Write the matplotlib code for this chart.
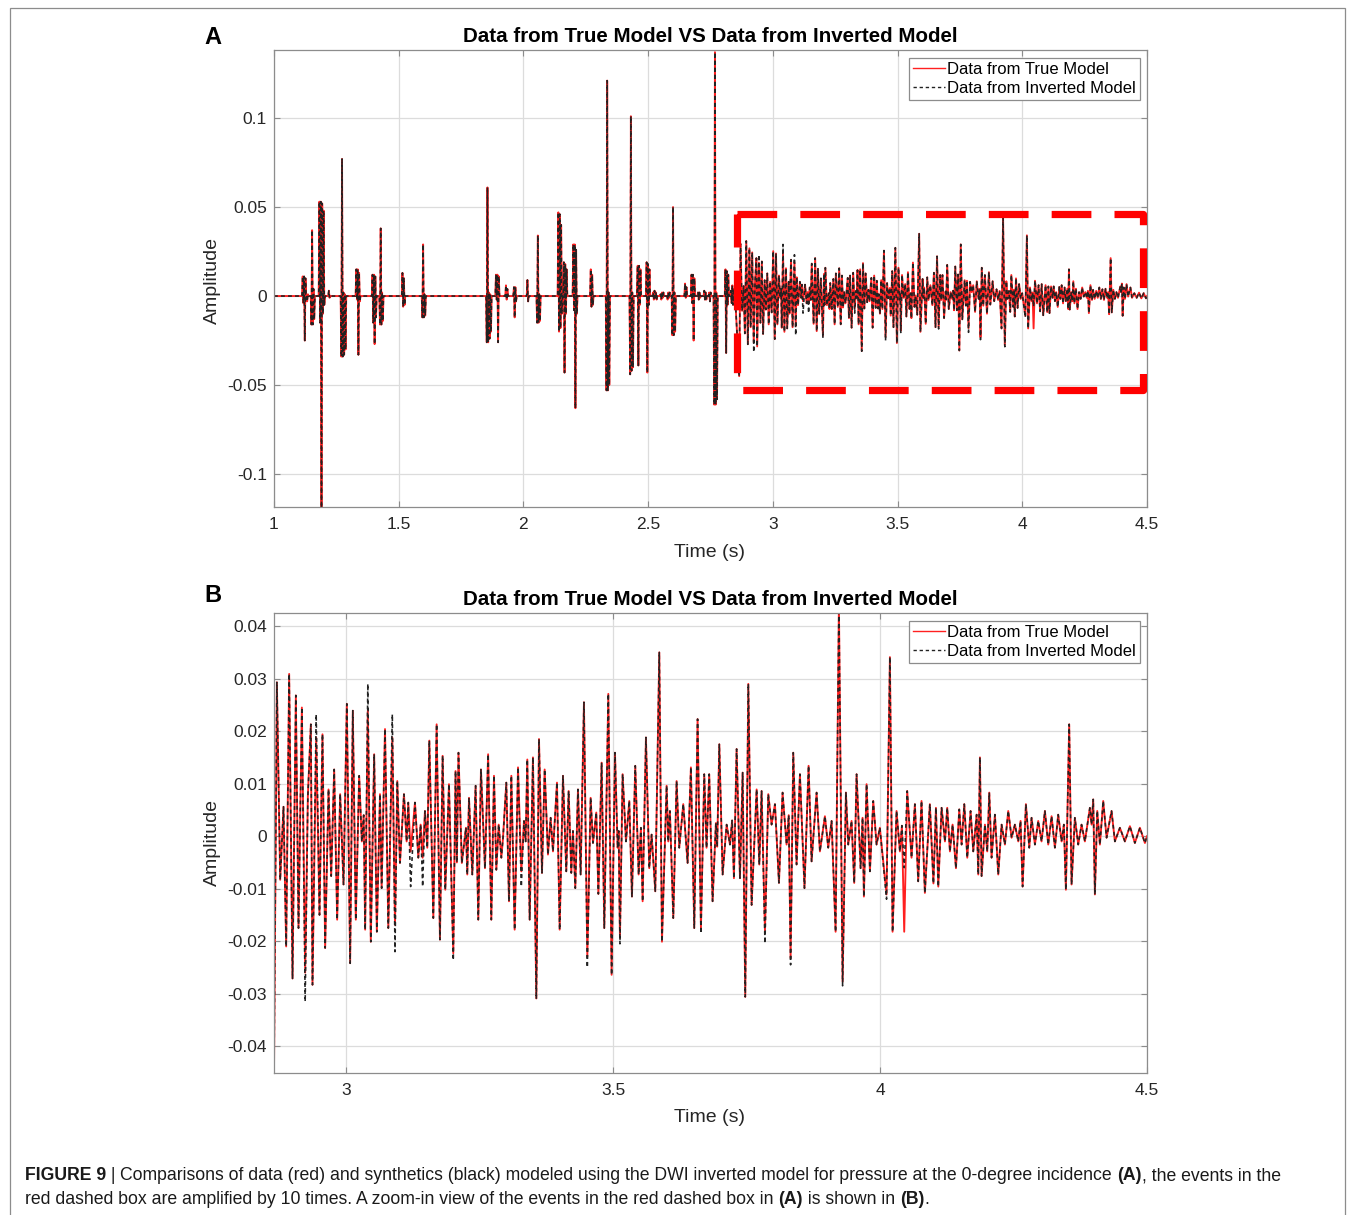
import numpy as np
import matplotlib
matplotlib.use('Agg')
from matplotlib import pyplot as plt
from matplotlib.patches import Rectangle

plt.rcParams['font.family'] = ['Liberation Sans', 'DejaVu Sans']
plt.rcParams['axes.unicode_minus'] = False

TITLE = 'Data from True Model VS Data from Inverted Model'
LEG = ['Data from True Model', 'Data from Inverted Model']

# early events of the full trace (A): onset time and successive extrema
ev_onset = [1.115, 1.133, 1.150, 1.182, 1.220, 1.270, 1.330, 1.395, 1.425, 1.515,
            1.595, 1.853, 1.890, 1.930, 1.962, 2.016, 2.055, 2.140, 2.162, 2.200,
            2.270, 2.333, 2.428, 2.458, 2.494, 2.520, 2.550, 2.578, 2.597, 2.648,
            2.674, 2.700, 2.725, 2.745, 2.765, 2.810, 2.832]
ev_amp = [
    [0.011, -0.004, 0.011, -0.025, 0.010, -0.002],
    [-0.003, 0.001],
    [-0.016, 0.037, -0.016, 0.004, -0.013],
    [0.053, -0.015, 0.053, -0.119, 0.052, -0.010, 0.048, -0.005],
    [0.003, -0.001],
    [-0.034, 0.077, -0.034, 0.002, -0.033, 0.001, -0.030],
    [0.015, -0.002, 0.015, -0.033, 0.013, -0.003],
    [0.012, -0.015, 0.012, -0.027, 0.011, -0.012],
    [-0.016, 0.038, -0.016, 0.002, -0.014],
    [0.013, -0.006, 0.010, -0.005],
    [-0.012, 0.029, -0.012, 0.001, -0.011],
    [-0.026, 0.061, -0.026, 0.002, -0.024, 0.001, -0.020],
    [0.012, -0.002, 0.012, -0.026, 0.011],
    [0.006, -0.002, 0.004],
    [0.005, -0.012, 0.005, -0.003],
    [0.009, -0.003],
    [-0.015, 0.034, -0.015, 0.001, -0.014],
    [0.047, -0.020, 0.046, -0.018, 0.040, -0.010],
    [0.019, -0.043, 0.018, -0.010, 0.015],
    [0.029, -0.008, 0.029, -0.063, 0.026, -0.010],
    [0.015, -0.006, 0.012, -0.005],
    [-0.053, 0.121, -0.053, 0.002, -0.050],
    [-0.044, 0.101, -0.042, 0.002, -0.040],
    [0.017, -0.039, 0.017, -0.005, 0.015],
    [0.019, -0.043, 0.018, -0.005, 0.015],
    [0.002, -0.002, 0.003, -0.001, 0.002, -0.002],
    [0.001, -0.002, 0.002, -0.001, 0.002],
    [-0.002, 0.002, -0.001, 0.002],
    [-0.022, 0.050, -0.022, 0.002, -0.020],
    [0.007, -0.001, 0.005],
    [0.012, -0.004, 0.012, -0.025, 0.010],
    [0.002, -0.002, 0.002, -0.001],
    [0.003, -0.002, 0.002, -0.002],
    [0.002, -0.003, 0.002],
    [-0.061, 0.137, -0.061, 0.002, -0.058],
    [0.015, -0.032, 0.014, -0.005, 0.012],
    [0.003, -0.004, 0.006, -0.005, 0.004, -0.003],
]
DT = 0.0028  # spacing of extrema inside one event

# boxed part of the trace (shown enlarged in B): extrema times and amplitudes
t_b = [2.865, 2.8704, 2.8766, 2.8828, 2.8878, 2.8934, 2.8997, 2.9059, 2.9109, 2.9172,
       2.9234, 2.9284, 2.9340, 2.9371, 2.9440, 2.9502, 2.9558, 2.9608, 2.9671, 2.9721,
       2.9777, 2.9833, 2.9889, 2.9952, 3.0014, 3.0076, 3.0126, 3.0182, 3.0245, 3.0295,
       3.0330, 3.0357, 3.0407, 3.0463, 3.0526, 3.0576, 3.0635, 3.0666, 3.0729, 3.0791,
       3.0866, 3.0916, 3.0959, 3.1009, 3.1084, 3.1134, 3.1165, 3.1209, 3.1290, 3.1353,
       3.1396, 3.1434, 3.1477, 3.1521, 3.1559, 3.1634, 3.1696, 3.1758, 3.1808, 3.1858,
       3.1927, 3.2008, 3.2050, 3.2075, 3.2105, 3.2168, 3.2245, 3.2270, 3.2302, 3.2364,
       3.2426, 3.2476, 3.2526, 3.2601, 3.2660, 3.2720, 3.2770, 3.2814, 3.2858, 3.2908,
       3.2939, 3.3001, 3.3051, 3.3095, 3.3157, 3.3220, 3.3282, 3.3332, 3.3363, 3.3394,
       3.3438, 3.3500, 3.3563, 3.3613, 3.3669, 3.3719, 3.3781, 3.3831, 3.3875, 3.3950,
       3.4000, 3.4062, 3.4124, 3.4168, 3.4218, 3.4249, 3.4293, 3.4343, 3.4393, 3.4455,
       3.4518, 3.4580, 3.4624, 3.4686, 3.4725, 3.4786, 3.4836, 3.4911, 3.4973, 3.5036,
       3.5086, 3.5105, 3.5129, 3.5179, 3.5242, 3.5304, 3.5354, 3.5416, 3.5479, 3.5522,
       3.5554, 3.5616, 3.5678, 3.5722, 3.5791, 3.5866, 3.5916, 3.6003, 3.6034, 3.6065,
       3.6128, 3.6190, 3.6240, 3.6315, 3.6396, 3.6458, 3.6521, 3.6583, 3.6646, 3.6708,
       3.6751, 3.6801, 3.6864, 3.6926, 3.6950, 3.6990, 3.7052, 3.7127, 3.7189, 3.7230,
       3.7264, 3.7314, 3.7377, 3.7427, 3.7476, 3.7533, 3.7595, 3.7689, 3.7739, 3.7782,
       3.7845, 3.7907, 3.7969, 3.8032, 3.8107, 3.8175, 3.8250, 3.8290, 3.8325, 3.8375,
       3.8437, 3.8500, 3.8585, 3.8662, 3.8718, 3.8812, 3.8874, 3.8968, 3.9030, 3.9093,
       3.9168, 3.9230, 3.9299, 3.9361, 3.9405, 3.9467, 3.9517, 3.9561, 3.9636, 3.9673,
       3.9698, 3.9748, 3.9811, 3.9873, 3.9935, 3.9997, 4.0122, 4.0185, 4.0235, 4.0309,
       4.0372, 4.0410, 4.0453, 4.0509, 4.0590, 4.0653, 4.0715, 4.0777, 4.0840, 4.0933,
       4.1000, 4.1047, 4.1091, 4.1153, 4.1216, 4.1259, 4.1309, 4.1359, 4.1422, 4.1484,
       4.1528, 4.1578, 4.1634, 4.1696, 4.1746, 4.1809, 4.1840, 4.1871, 4.1902, 4.1965,
       4.2008, 4.2046, 4.2089, 4.2152, 4.2214, 4.2277, 4.2339, 4.2401, 4.2464, 4.2526,
       4.2589, 4.2632, 4.2670, 4.2732, 4.2795, 4.2838, 4.2901, 4.2963, 4.3025, 4.3088,
       4.3150, 4.3213, 4.3275, 4.3337, 4.3400, 4.3443, 4.3481, 4.3543, 4.3587, 4.3649,
       4.3712, 4.3774, 4.3837, 4.3930, 4.3962, 4.3993, 4.4024, 4.4068, 4.4118, 4.4180,
       4.4243, 4.4336, 4.4399, 4.4492, 4.4586, 4.4680, 4.4773, 4.4867, 4.4961, 4.5000]
true_b = [-0.0450, 0.0293, -0.0083, 0.0056, -0.0210, 0.0309, -0.0271, 0.0268, -0.0175, 0.0245,
          -0.0260, 0.0076, 0.0213, -0.0283, 0.0188, -0.0150, 0.0194, -0.0213, 0.0089, -0.0076,
          0.0127, -0.0159, 0.0080, -0.0092, 0.0252, -0.0242, 0.0239, -0.0159, 0.0115, -0.0010,
          0.0040, -0.0178, 0.0239, -0.0201, 0.0156, -0.0182, 0.0080, -0.0099, 0.0204, -0.0175,
          0.0188, -0.0169, 0.0105, -0.0051, 0.0080, -0.0010, 0.0064, -0.0029, 0.0064, -0.0041,
          0.0022, -0.0041, 0.0048, -0.0022, 0.0182, -0.0156, 0.0213, -0.0197, 0.0153, -0.0102,
          0.0099, -0.0223, 0.0124, -0.0050, 0.0159, -0.0051, 0.0016, -0.0073, 0.0073, -0.0073,
          0.0096, -0.0159, 0.0127, -0.0061, 0.0156, -0.0159, 0.0115, -0.0064, 0.0022, -0.0041,
          -0.0003, 0.0102, -0.0124, 0.0115, -0.0178, 0.0131, -0.0067, 0.0029, -0.0010, 0.0146,
          -0.0159, 0.0150, -0.0309, 0.0185, -0.0070, 0.0127, -0.0035, 0.0035, -0.0029, 0.0102,
          -0.0178, 0.0115, -0.0067, 0.0086, -0.0070, 0.0010, -0.0099, 0.0089, -0.0073, 0.0255,
          -0.0229, 0.0073, -0.0013, 0.0045, -0.0110, 0.0140, -0.0175, 0.0271, -0.0264, 0.0159,
          -0.0022, 0.0010, -0.0194, 0.0118, -0.0010, 0.0067, -0.0115, 0.0134, -0.0073, 0.0016,
          -0.0124, 0.0188, -0.0061, 0.0003, -0.0105, 0.0350, -0.0201, 0.0096, -0.0010, 0.0048,
          -0.0156, 0.0105, -0.0022, 0.0061, -0.0051, 0.0131, -0.0175, 0.0223, -0.0175, 0.0118,
          -0.0022, 0.0118, -0.0124, 0.0025, -0.0020, 0.0175, -0.0073, 0.0022, -0.0016, 0.0030,
          -0.0080, 0.0166, -0.0080, 0.0121, -0.0306, 0.0290, -0.0131, 0.0089, -0.0054, 0.0086,
          -0.0180, 0.0080, 0.0022, 0.0061, -0.0089, 0.0083, -0.0016, 0.0040, -0.0232, 0.0159,
          -0.0054, 0.0118, -0.0099, 0.0134, -0.0048, 0.0083, -0.0029, 0.0038, -0.0022, 0.0029,
          -0.0182, 0.0440, -0.0277, 0.0083, -0.0016, 0.0029, -0.0089, 0.0118, -0.0061, 0.0035,
          -0.0115, 0.0099, -0.0067, 0.0067, -0.0016, 0.0016, -0.0111, 0.0341, -0.0182, 0.0048,
          -0.0029, 0.0020, -0.0182, 0.0086, -0.0041, 0.0061, -0.0086, 0.0067, -0.0108, 0.0061,
          -0.0090, 0.0054, -0.0096, 0.0054, -0.0010, 0.0054, -0.0029, 0.0022, -0.0061, 0.0051,
          -0.0016, 0.0061, -0.0041, 0.0048, -0.0029, 0.0041, -0.0073, 0.0150, -0.0076, 0.0022,
          -0.0029, 0.0083, -0.0041, 0.0041, -0.0073, 0.0022, -0.0016, 0.0048, -0.0003, 0.0022,
          -0.0010, 0.0029, -0.0096, 0.0061, -0.0022, 0.0035, -0.0016, 0.0029, -0.0010, 0.0048,
          -0.0016, 0.0038, -0.0022, 0.0041, -0.0010, 0.0022, -0.0102, 0.0213, -0.0092, 0.0035,
          -0.0016, 0.0022, -0.0010, 0.0054, 0.0022, 0.0070, -0.0111, 0.0048, -0.0016, 0.0067,
          -0.0003, 0.0048, -0.0010, 0.0016, -0.0010, 0.0019, -0.0013, 0.0016, -0.0013, 0.0000]
# extrema where the inverted-model synthetics differ from the true-model data
inv_t = [2.9234, 2.9440, 3.0407, 3.0866, 3.0916, 3.1209, 3.1434, 3.2008, 3.3282, 3.3563,
         3.4518, 3.5129, 3.6646, 3.7845, 3.8325, 3.9299, 4.0122, 4.0453]
inv_v = [-0.0315, 0.0232, 0.0290, 0.0232, -0.0220, -0.0096, -0.0096, -0.0236, -0.0096, -0.0310,
         -0.0250, -0.0205, -0.0185, -0.0204, -0.0245, -0.0285, -0.0120, -0.0060]

xt_a = [1, 1.5, 2, 2.5, 3, 3.5, 4, 4.5]
yt_a = [-0.1, -0.05, 0, 0.05, 0.1]
xt_b = [3, 3.5, 4, 4.5]
yt_b = [-0.04, -0.03, -0.02, -0.01, 0, 0.01, 0.02, 0.03, 0.04]

# dashed box marking the enlarged window
box_t = (2.857, 4.484)
box_a = (-0.053, 0.046)

# ---- assemble traces
inv_b = list(true_b)
for t, v in zip(inv_t, inv_v):
    inv_b[int(np.argmin(np.abs(np.array(t_b) - t)))] = v

ta, aa = [1.0], [0.0]
for t0, amps in zip(ev_onset, ev_amp):
    ta.append(t0 - DT)
    aa.append(0.0)
    for k, a in enumerate(amps):
        ta.append(t0 + k * DT)
        aa.append(a)
    ta.append(t0 + len(amps) * DT)
    aa.append(0.0)
ta_true = ta + t_b
aa_true = aa + true_b
aa_inv = aa + inv_b

W, H = 1355, 1215
fig = plt.figure(figsize=(W / 100, H / 100), dpi=100)

# thin frame around the whole figure
fig.patches.append(Rectangle((10 / W, -0.01), 1335 / W, 1 - 8 / H + 0.01, transform=fig.transFigure,
                             fill=False, edgecolor='#8c8c8c', linewidth=0.9))


def style_axes(ax, xt, yt, xlim, ylim):
    ax.set_xlim(*xlim)
    ax.set_ylim(*ylim)
    ax.set_xticks(xt)
    ax.set_xticklabels([f'{v:g}' for v in xt])
    ax.set_yticks(yt)
    ax.set_yticklabels([f'{v:g}' for v in yt])
    ax.grid(True, color='#dcdcdc', linewidth=0.9)
    ax.set_axisbelow(True)
    ax.tick_params(direction='in', length=4, width=0.8, top=True, right=True,
                   labelsize=12.5, colors='#8c8c8c', labelcolor='#262626')
    ax.tick_params(axis='x', pad=7)
    ax.tick_params(axis='y', pad=5)
    for s in ax.spines.values():
        s.set_color('#8c8c8c')
        s.set_linewidth(0.9)
    ax.set_title(TITLE, fontsize=14.8, fontweight='bold', pad=6)


def draw_traces(ax, t, a_true, a_inv):
    ax.plot(t, a_true, color='#ff2020', linewidth=1.35, label=LEG[0])
    ax.plot(t, a_inv, color='#222222', linewidth=1.15, linestyle=(0, (2.4, 2.0)), label=LEG[1])
    leg = ax.legend(loc='upper right', fontsize=12, handlelength=1.9, handletextpad=0.1,
                    borderpad=0.25, labelspacing=0.25, borderaxespad=0.45, fancybox=False,
                    framealpha=1)
    leg.get_frame().set_edgecolor('#8c8c8c')
    leg.get_frame().set_linewidth(0.9)
    for ln in leg.get_lines():
        ln.set_linewidth(1.0)


# ---- A: full trace
axA = fig.add_axes([274 / W, 1 - 507 / H, 873 / W, 457 / H])
draw_traces(axA, ta_true, aa_true, aa_inv)
style_axes(axA, xt_a, yt_a, (1, 4.5), (-0.1185, 0.1382))
axA.plot([box_t[0], box_t[1], box_t[1], box_t[0], box_t[0]],
         [box_a[1], box_a[1], box_a[0], box_a[0], box_a[1]],
         color='#ff0000', linewidth=5.2, linestyle=(0, (5.5, 3.2)), solid_capstyle='butt',
         zorder=5)

# ---- B: enlarged window
axB = fig.add_axes([274 / W, 1 - 1073 / H, 873 / W, 460 / H])
draw_traces(axB, t_b, true_b, inv_b)
style_axes(axB, xt_b, yt_b, (2.865, 4.5), (-0.0451, 0.0425))

for ymid, ylab in [(280, 552), (842, 1117)]:
    fig.text(710 / W, 1 - ylab / H, 'Time (s)', fontsize=14, ha='center', va='center', color='#262626')
    fig.text(212 / W, 1 - ymid / H, 'Amplitude', fontsize=14, rotation=90, ha='center', va='center',
             color='#262626')
fig.text(213 / W, 1 - 38 / H, 'A', fontsize=17, fontweight='bold', ha='center', va='center')
fig.text(213 / W, 1 - 596 / H, 'B', fontsize=17, fontweight='bold', ha='center', va='center')

# ---- caption with bold pieces
cap = [
    [('FIGURE 9', 'bold'), (' | ', 'normal'),
     ('Comparisons of data (red) and synthetics (black) modeled using the DWI inverted model for '
      'pressure at the 0-degree incidence ', 'normal'), ('(A)', 'bold'), (', the events in the', 'normal')],
    [('red dashed box are amplified by 10 times. A zoom-in view of the events in the red dashed box in ',
      'normal'), ('(A)', 'bold'), (' is shown in ', 'normal'), ('(B)', 'bold'), ('.', 'normal')],
]
renderer = fig.canvas.get_renderer()
for yc, line in zip([1176, 1199], cap):
    x = 25
    for s, w in line:
        tx = fig.text(x / W, 1 - yc / H, s, fontsize=12.7, fontweight=w, ha='left', va='center',
                      color='#1a1a1a')
        x += tx.get_window_extent(renderer).width

fig.savefig('out.png', dpi=100)
